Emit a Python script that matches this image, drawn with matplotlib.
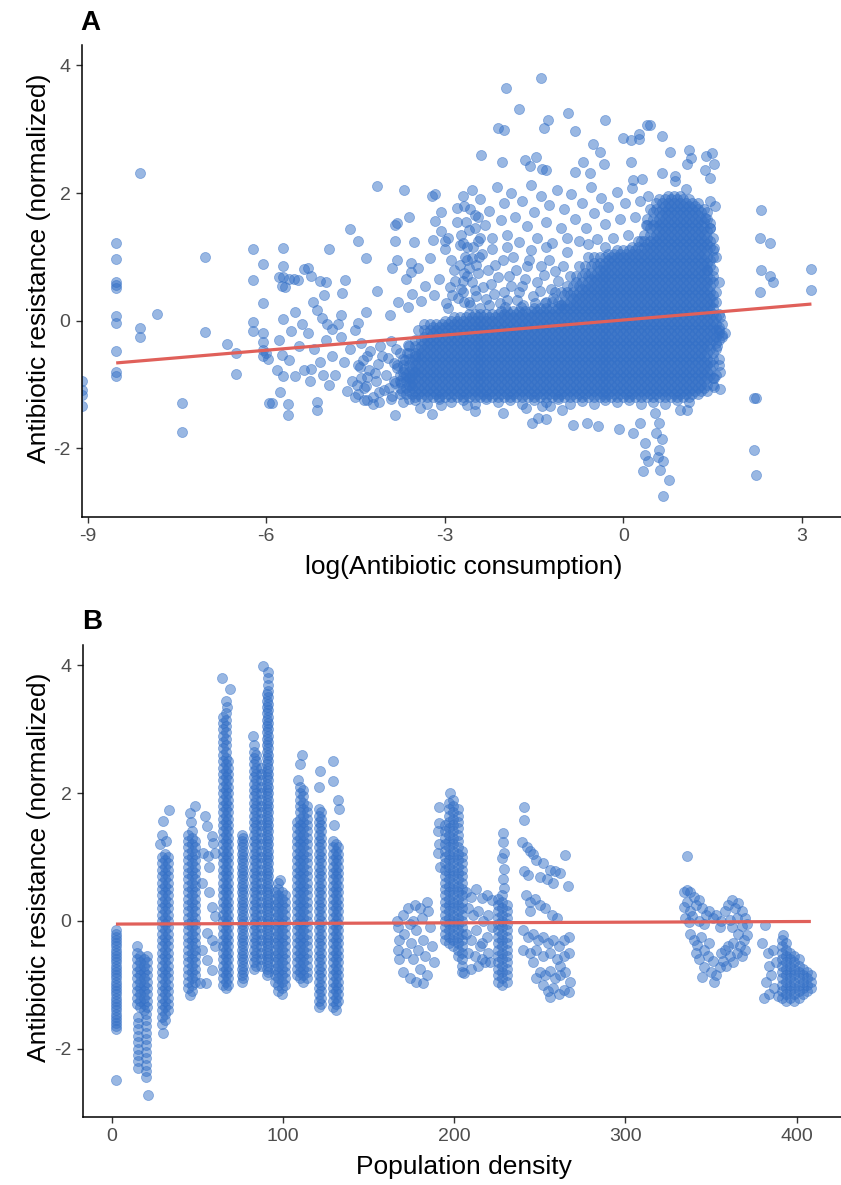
import numpy as np
import matplotlib
matplotlib.use('Agg')
import matplotlib.pyplot as plt

plt.rcParams['font.family'] = ['Liberation Sans', 'DejaVu Sans']
plt.rcParams['axes.unicode_minus'] = False

POINT_COLOR = '#3571C7'
FIT_COLOR = '#E0605A'
Y_TICKS = [-2, 0, 2, 4]
Y_LIM = (-3.07, 4.32)

# ---------------- panel A : log(antibiotic consumption) ----------------
# countries reporting zero consumption -> log is -inf, ggplot puts them on the edge
a_zero_y = [-0.94, -1.08, -1.17, -1.33]

# isolated observations
a_x = [-8.52, -8.52, -8.52, -8.52, -8.52, -8.52, -8.52, -8.52, -8.52, -8.52,
       -8.12, -8.12, -8.12, -7.83, -7.42, -7.42, -7.02, -7.02, -6.65, -6.50, -6.50,
       -6.22, -6.22, -6.22, -6.22, -6.06, -6.06, -6.06, -6.06, -6.06, -6.06, -5.96, -6.00, -5.97,
       -5.90, -5.79, -5.73, -5.82, -5.71, -5.76, -5.71, -5.71, -5.79, -5.71, -5.62, -5.54, -5.46,
       -5.74, -5.68, -5.71, -5.52, -5.59, -5.62, -5.52, -5.37, -5.26, -5.15, -5.15, -5.64, -5.64,
       -5.37, -5.29, -5.25, -5.22, -5.15, -5.09, -5.00, -5.03, -4.95, -5.06, -4.98, -4.90,
       -4.73, -4.67, -4.74, -4.59, -4.46, -4.32, -4.46, -4.32, -4.14, -3.92, -4.14, -3.68, -3.22, -3.16,
       -3.83, -3.80, -3.60, -3.83, -3.51, -3.89, -3.80, -3.57, -3.57, -3.06, -3.16, -3.06, -3.19, -2.99, -2.80,
       -5.30, -5.20, -5.10, -5.00, -4.90, -4.85, -4.75, -4.70, -4.60, -4.55, -4.50, -4.45, -4.40, -4.35,
       -4.30, -5.25, -4.95, -4.80, -4.65, -5.45, -5.40, -5.05, -4.50, -4.20,
       -3.83, -3.41, -3.22, -3.06,
       -1.38, -1.97, -1.76, -2.11, -2.00, -1.27, -1.34, -0.93, -0.81, -0.30, 0.40, 0.00, 0.13, 0.26, 0.27,
       -2.39, -2.04, -1.66, -1.57, -1.46, -1.37, -1.30, -0.81, -0.68, -0.56, -0.51, -0.40, -0.33, 0.13, 0.17, 0.31,
       -2.63, -2.49, -2.02, -1.63, -1.53, -1.44, -1.30, -1.37, -1.23, -1.03, -0.85, -0.61, -0.43, -0.08,
       0.17, 0.37, 0.33, 0.37, 0.28, 0.42,
       0.45, 0.65, 0.78, 1.10, 1.07, 1.14, 1.39, 1.49, 1.53, 1.38, 1.45, 0.65, 0.86, 0.86, 1.06, 1.46,
       1.54, 1.38, 1.45, 1.46, 1.52, 1.40, 1.60, 1.65, 1.62, 1.52, 1.52, 1.62, 0.96, 1.07, 0.54, 0.60,
       0.55, 0.65, 0.60, 0.58, 0.67, 0.62, 0.76, 0.66,
       2.32, 2.30, 2.47, 2.32, 2.47, 2.51, 2.30, 3.16, 3.16, 2.20, 2.23, 2.20, 2.23,
       1.55, 1.60, 1.55, 1.62, 1.58, 1.60]
a_y = [1.21, 0.96, 0.60, 0.56, 0.51, 0.07, -0.04, -0.47, -0.80, -0.87,
       2.32, -0.12, -0.26, 0.10, -1.29, -1.74, 0.99, -0.17, -0.37, -0.50, -0.83,
       1.13, 0.63, -0.02, -0.16, 0.89, 0.27, -0.19, -0.33, -0.46, -0.55, -1.29, -0.50, -0.60,
       -1.29, -0.30, -0.53, -0.77, -0.87, -1.11, 1.14, 0.85, 0.68, 0.68, 0.66, 0.66, 0.64,
       0.55, 0.53, 0.02, 0.13, -0.16, -0.61, -0.87, -0.78, -0.95, -1.27, -1.40, -1.31, -1.47,
       0.81, 0.82, 0.70, 0.30, 0.17, 0.62, 0.61, 0.40, 1.12, 0.04, -0.05, -0.13,
       0.43, 0.63, 0.09, 1.43, 1.25, 0.98, -0.03, 0.13, 0.46, 0.09, 2.11, 2.04, 1.96, 1.98,
       1.50, 1.53, 1.63, 1.25, 1.23, 0.83, 0.95, 0.91, 0.76, 1.70, 1.56, 1.41, 1.27, 1.25, 1.77,
       -0.20, -0.45, -0.65, -0.30, -0.55, -0.85, -0.25, -0.65, -0.45, -0.95, -0.15, -0.70, -0.35, -1.05,
       -0.55, -0.75, -1.00, -0.05, -1.10, -0.40, -0.05, -0.85, -1.20, -1.30,
       -1.47, -1.37, -1.46, -1.32,
       3.80, 3.64, 3.32, 3.02, 2.98, 3.14, 3.02, 3.25, 2.97, 3.14, 3.07, 2.86, 2.83, 2.84, 2.93,
       2.60, 2.48, 2.51, 2.43, 2.56, 2.38, 2.36, 2.33, 2.48, 2.32, 2.77, 2.64, 2.45, 2.48, 2.21, 2.22,
       -1.32, -1.41, -1.45, -1.36, -1.60, -1.53, -1.54, -1.33, -1.34, -1.40, -1.63, -1.61, -1.65, -1.70,
       -1.76, -2.10, -2.35, -1.92, -1.61, -2.20,
       3.06, 2.89, 2.65, 2.67, 2.46, 2.55, 2.58, 2.62, 2.45, 2.36, 2.24, 2.32, 2.26, 2.19, 2.06, 1.87,
       1.79, 1.61, 1.53, 1.45, 1.14, 0.80, -0.14, -0.22, -0.80, -0.90, -1.04, -1.07, -1.40, -1.40, -1.45, -1.60,
       -1.76, -1.85, -2.02, -2.13, -2.20, -2.34, -2.50, -2.75,
       1.74, 1.29, 1.22, 0.80, 0.70, 0.60, 0.45, 0.81, 0.48, -1.21, -1.21, -2.02, -2.41,
       1.00, 0.60, 0.30, 0.05, -0.40, -0.60]

# looser cloud around the main band
a_mid_x = [-3.78, -3.62, -3.55, -3.40, -3.33, -3.18, -3.10, -2.98, -2.92, -2.85, -2.78, -2.70, -2.62,
           -2.58, -2.50, -2.44, -2.38, -2.30, -2.22, -2.15, -2.08, -2.00, -1.92, -1.86, -1.78, -1.70,
           -1.62, -1.55, -1.48, -1.40, -1.33, -1.25, -1.18, -1.10, -1.02, -0.95, -3.45, -3.25, -3.00,
           -2.75, -2.52, -2.90, -2.20, -1.95, -1.72, -2.62, -3.65, -1.30, -1.05, -2.40,
           -2.95, -2.80, -2.70, -2.68, -2.60, -2.55, -2.50, -2.45, -2.40, -2.32, -2.25, -2.20, -2.12,
           -2.05, -2.00, -1.95, -1.88, -1.82, -1.75, -1.70, -1.62, -1.55, -1.50, -1.45, -1.38, -1.30,
           -1.25, -1.20, -1.12, -1.05, -1.00, -0.95, -0.88, -0.82, -0.75, -0.70, -0.62, -0.55, -0.50,
           -0.45, -0.38, -0.30, -0.25, -0.18, -0.10, -0.05, 0.02, 0.08, 0.15, 0.20, 0.28, 0.30, 0.38,
           0.42, -2.72, -2.60, -2.66, -2.48, -0.60, -0.30,
           -2.95, -2.88, -2.82, -2.75, -2.68, -2.55, -2.48, -2.35, -2.28, -2.18, -2.10, -2.02, -1.95,
           -1.88, -1.80, -1.75, -1.65, -1.58, -1.52, -1.45, -1.38, -1.32, -1.22, -1.15, -2.60, -2.42,
           -1.98, -1.68, -2.25, -2.70,
           -2.72, -2.65, -2.58, -2.70, -2.50, -2.62, -2.45, -2.68, -2.55, -2.40,
           -4.3, -4.1, -3.9, -3.7, -3.5, -3.3, -3.1, -2.9, -2.7, -2.5, -2.3, -2.1, -1.9, -1.7, -1.5,
           -1.3, -1.1, -0.9, -0.7, -0.5, -0.3, -0.1, 0.1, 0.3, 0.5, 0.7, 0.9, 1.1,
           -4.45, -4.40, -4.38, -4.32, -4.28, -4.25, -4.20, -4.15, -4.12, -4.08, -4.02, -3.98, -3.95,
           -3.90, -3.88, -3.84, -3.80, -3.76, -3.72, -3.70, -3.66, -3.62, -3.60, -3.56, -3.52, -3.50,
           -4.42, -4.35, -4.18, -4.05, -3.93, -3.82, -3.68, -3.58, -4.48, -4.30, -4.10, -3.86, -3.74,
           -3.64]
a_mid_y = [0.30, 0.22, 0.42, 0.31, 0.55, 0.40, 0.66, 0.28, 0.52, 0.80, 0.36, 0.62, 0.95,
           0.25, 0.48, 0.75, 1.05, 0.34, 0.58, 0.88, 0.27, 0.45, 0.70, 1.00, 0.32, 0.55,
           0.85, 1.10, 0.28, 0.47, 0.72, 0.95, 0.36, 0.62, 0.85, 1.08, 0.82, 0.98, 1.12,
           1.18, 1.15, 0.95, 1.12, 1.15, 0.22, 0.70, 0.65, 1.15, 0.25, 0.20,
           1.30, 1.55, 1.22, 1.80, 1.42, 2.05, 1.65, 1.25, 1.90, 1.50, 1.72, 1.30, 2.10,
           1.58, 1.85, 1.35, 2.00, 1.62, 1.24, 1.88, 1.48, 2.12, 1.70, 1.30, 1.95, 1.55,
           1.82, 1.22, 2.05, 1.45, 1.75, 1.30, 1.98, 1.60, 1.25, 1.85, 1.45, 2.10, 1.68,
           1.28, 1.92, 1.52, 1.78, 1.30, 2.02, 1.60, 1.85, 1.35, 2.08, 1.62, 1.88, 1.25, 1.50,
           1.95, 0.50, 0.30, 1.00, 0.88, 1.20, 1.15,
           0.20, 0.40, 0.62, 0.88, 0.30, 0.60, 0.38, 0.52, 0.80, 0.42, 0.68, 0.95, 0.32,
           0.55, 0.80, 0.45, 0.65, 0.95, 0.38, 0.60, 0.85, 0.28, 0.50, 0.78, 0.82, 1.00,
           0.22, 0.25, 0.25, 0.45,
           1.35, 1.55, 1.75, 1.95, 1.45, 1.15, 1.62, 0.75, 0.98, 1.30,
           -1.25, -1.28, -1.22, -1.27, -1.24, -1.30, -1.22, -1.27, -1.25, -1.30, -1.23, -1.28, -1.25,
           -1.30, -1.24, -1.27, -1.22, -1.30, -1.26, -1.30, -1.24, -1.28, -1.25, -1.30, -1.27, -1.30,
           -1.25, -1.28,
           -1.15, -0.90, -0.62, -1.02, -0.78, -0.48, -1.20, -0.95, -0.68, -0.40, -1.08, -0.85, -0.58,
           -0.32, -1.18, -0.98, -0.74, -0.50, -1.10, -0.88, -0.62, -0.38, -1.22, -1.00, -0.80, -0.55,
           -0.72, -1.25, -0.82, -0.55, -1.05, -0.45, -0.75, -0.90, -1.00, -0.88, -1.12, -0.66, -0.98,
           -0.50]

# main band, filled row by row: consumption grid values (two staggered sets) and
# for each resistance level the consumption range the band covers
a_band_x0 = [-4.4, -4.3, -4.2, -4.1, -4.0, -3.9, -3.8, -3.7, -3.6, -3.5, -3.4, -3.3, -3.2, -3.1,
             -3.0, -2.9, -2.8, -2.7, -2.6, -2.5, -2.4, -2.3, -2.2, -2.1, -2.0, -1.9, -1.8, -1.7,
             -1.6, -1.5, -1.4, -1.3, -1.2, -1.1, -1.0, -0.9, -0.8, -0.7, -0.6, -0.5, -0.4, -0.3,
             -0.2, -0.1, 0.0, 0.1, 0.2, 0.3, 0.4, 0.5, 0.6, 0.7, 0.8, 0.9, 1.0, 1.1, 1.2, 1.3, 1.4,
             1.5, 1.6, 1.7]
a_band_x1 = [-4.45, -4.35, -4.25, -4.15, -4.05, -3.95, -3.85, -3.75, -3.65, -3.55, -3.45, -3.35,
             -3.25, -3.15, -3.05, -2.95, -2.85, -2.75, -2.65, -2.55, -2.45, -2.35, -2.25, -2.15,
             -2.05, -1.95, -1.85, -1.75, -1.65, -1.55, -1.45, -1.35, -1.25, -1.15, -1.05, -0.95,
             -0.85, -0.75, -0.65, -0.55, -0.45, -0.35, -0.25, -0.15, -0.05, 0.05, 0.15, 0.25, 0.35,
             0.45, 0.55, 0.65, 0.75, 0.85, 0.95, 1.05, 1.15, 1.25, 1.35, 1.45, 1.55, 1.65]
a_band_y = [-1.20, -1.15, -1.10, -1.05, -1.00, -0.95, -0.90, -0.85, -0.80, -0.75, -0.70, -0.65,
            -0.60, -0.55, -0.50, -0.45, -0.40, -0.35, -0.30, -0.25, -0.20, -0.15, -0.10, -0.05,
            0.00, 0.05, 0.10, 0.15, 0.20, 0.25, 0.30, 0.35, 0.40, 0.45, 0.50, 0.55, 0.60, 0.65,
            0.70, 0.75, 0.80, 0.85, 0.90, 0.95, 1.00, 1.05, 1.10, 1.15, 1.20, 1.25, 1.30, 1.35,
            1.40, 1.45, 1.50, 1.55, 1.60, 1.65, 1.70, 1.75, 1.80, 1.85, 1.90, 1.95]
a_band_lo = [-3.55, -3.75, -3.6, -3.8, -3.65, -3.85, -3.6, -3.75, -3.7, -3.55, -3.8, -3.6,
             -3.7, -3.5, -3.65, -3.45, -3.6, -3.4, -3.5, -3.35, -3.3, -3.45, -3.2, -3.35,
             -3.0, -2.85, -2.6, -2.05, -1.5, -1.05, -1.3, -0.85, -1.0, -1.15, -0.7, -0.95, -0.8, -0.55,
             -0.9, -0.65, -0.4, -0.75, -0.5, -0.25, -0.6, -0.3, -0.1, 0.15, 0.4, 0.25, 0.5, 0.35,
             0.6, 0.45, 0.4, 0.55, 0.4, 0.65, 0.5, 0.45, 0.7, 0.55, 0.6, 0.75]
a_band_hi = [1.10, 1.25, 1.4, 1.35, 1.5, 1.40, 1.5, 1.55, 1.4, 1.45, 1.6, 1.45,
             1.5, 1.35, 1.5, 1.55, 1.4, 1.55, 1.6, 1.65, 1.7, 1.55, 1.6, 1.65,
             1.5, 1.55, 1.6, 1.45, 1.5, 1.45, 1.5, 1.45, 1.5, 1.55, 1.4, 1.45, 1.5, 1.45,
             1.5, 1.35, 1.5, 1.45, 1.4, 1.45, 1.5, 1.35, 1.5, 1.45, 1.4, 1.45, 1.5, 1.35,
             1.4, 1.45, 1.3, 1.35, 1.4, 1.25, 1.4, 1.35, 1.2, 1.25, 1.1, 0.95]

# linear fit (intercept, slope) over the finite consumption range
a_fit = (0.011, 0.079)
a_fit_range = [-8.52, 3.16]

# ---------------- panel B : population density ----------------
# regions sharing (almost) the same density form vertical stripes:
# density of each stripe and the resistance range it covers
b_levels0 = [-2.8, -2.7, -2.6, -2.5, -2.4, -2.3, -2.2, -2.1, -2.0, -1.9, -1.8, -1.7, -1.6, -1.5,
             -1.4, -1.3, -1.2, -1.1, -1.0, -0.9, -0.8, -0.7, -0.6, -0.5, -0.4, -0.3, -0.2, -0.1,
             0.0, 0.1, 0.2, 0.3, 0.4, 0.5, 0.6, 0.7, 0.8, 0.9, 1.0, 1.1, 1.2, 1.3, 1.4, 1.5, 1.6,
             1.7, 1.8, 1.9, 2.0, 2.1, 2.2, 2.3, 2.4, 2.5, 2.6, 2.7, 2.8, 2.9, 3.0, 3.1, 3.2, 3.3,
             3.4, 3.5, 3.6, 3.7, 3.8, 3.9, 4.0]
b_levels1 = [-2.75, -2.65, -2.55, -2.45, -2.35, -2.25, -2.15, -2.05, -1.95, -1.85, -1.75, -1.65,
             -1.55, -1.45, -1.35, -1.25, -1.15, -1.05, -0.95, -0.85, -0.75, -0.65, -0.55, -0.45,
             -0.35, -0.25, -0.15, -0.05, 0.05, 0.15, 0.25, 0.35, 0.45, 0.55, 0.65, 0.75, 0.85,
             0.95, 1.05, 1.15, 1.25, 1.35, 1.45, 1.55, 1.65, 1.75, 1.85, 1.95, 2.05, 2.15, 2.25,
             2.35, 2.45, 2.55, 2.65, 2.75, 2.85, 2.95, 3.05, 3.15, 3.25, 3.35, 3.45, 3.55, 3.65,
             3.75, 3.85, 3.95]
b_stripe_x = [2.4, 2.8, 14.6, 16.6, 18.6, 20.5, 15.6, 20.0, 29.2, 31.2, 33.1, 44.7, 46.7, 48.7,
              65.2, 66.7, 68.1, 75.9, 76.9, 83.2, 84.2, 90.5, 91.5, 95.3, 97.3, 99.3, 101.2,
              108.0, 110.0, 112.0, 113.9, 121.2, 122.2, 129.5, 131.0, 132.4,
              194.5, 197.0, 199.5, 202.0, 204.4, 225.8, 228.2, 230.7,
              391.2, 393.7, 396.2, 398.7, 401.2, 403.7, 406.2, 408.5, 87.0]
b_stripe_lo = [-1.70, -1.65, -1.35, -1.40, -1.40, -1.35, -2.30, -2.45, -1.50, -1.55, -1.45, -1.05,
               -1.10, -1.00, -1.00, -1.05, -1.00, -1.00, -0.95, -0.75, -0.70, -0.85, -0.80, -0.95,
               -1.10, -1.15, -1.05, -0.85, -0.90, -0.95, -0.90, -1.35, -1.30, -1.35, -1.40, -1.30,
               -0.30, -0.35, -0.40, -0.60, -0.85, -1.00, -1.05, -0.95,
               -1.20, -1.25, -1.20, -1.25, -1.20, -1.20, -1.15, -1.10, -0.70]
b_stripe_hi = [-0.15, -0.10, -0.40, -0.50, -0.55, -0.55, -1.45, -1.45, 1.05, 1.10, 1.00, 1.35,
               1.40, 1.30, 3.20, 3.30, 2.50, 1.40, 1.30, 2.75, 2.60, 3.60, 3.90, 0.45,
               0.60, 0.50, 0.40, 1.60, 2.10, 2.05, 1.80, 1.80, 1.75, 1.30, 1.25, 1.20,
               1.50, 1.85, 1.95, 1.80, 1.10, 0.35, 0.40, 0.30,
               -0.30, -0.35, -0.45, -0.55, -0.60, -0.70, -0.75, -0.85, 2.40]

# scattered observations off the stripes
b_x = [2.6, 21.0, 30.2, 33.7, 29.5, 32.0, 28.5, 30.0, 29.5, 45.7, 48.7, 46.5, 46.0,
       64.2, 69.1, 66.5, 67.5, 82.5, 88.6, 98.5, 111.0, 110.0, 109.0, 121.7, 121.0,
       129.4, 129.4, 132.4, 133.0, 130.0,
       191.0, 191.0, 190.5, 191.0, 190.5, 191.5, 197.6,
       228.7, 228.5, 229.0, 228.0, 229.0, 228.5, 229.0,
       54.5, 55.4, 58.4, 59.3, 53.6, 56.5, 60.3, 58.4, 60.3, 55.4, 58.4, 60.3, 55.4, 58.4, 55.1, 51.6,
       53.0, 57.0, 52.5, 56.8,
       166.5, 167, 168, 170, 171, 172, 173, 174, 175, 176, 177, 178, 179, 180, 181, 182, 183, 184, 185,
       186, 187, 188, 168, 170, 174, 178, 182, 167, 176, 180, 184,
       207, 210, 213, 216, 219, 222, 208, 211, 214, 217, 220, 207, 210, 213, 216, 219, 222, 208, 212,
       216, 220, 210, 214, 218, 206, 215, 221,
       240.8, 240.8, 239.4, 242.3, 244, 246, 248, 252, 256, 259, 262, 264.7, 266.7, 250, 254, 258, 241,
       243, 242, 244, 247, 250, 253, 257, 260, 244, 240, 243, 246, 249, 252, 255, 258, 261, 264, 267,
       240, 244, 248, 252, 256, 260, 264, 267, 250, 253, 256, 259, 262, 265, 267.6, 252, 255, 258, 261,
       264, 267, 256, 248, 246, 262,
       336.1,
       334, 336, 338, 340, 336, 334, 338, 341, 343, 345, 347, 335, 337, 339, 343, 346, 349, 351, 353,
       356, 358, 360, 362, 364, 366, 368, 370, 365, 361, 355, 362, 368, 371,
       338, 340, 342, 344, 341, 343, 346, 348, 351, 349, 346, 350, 353, 355, 357, 359, 361, 363, 365,
       367, 369, 371, 366, 363, 368, 370, 356, 358, 360, 345, 352,
       381.5, 392, 380, 383, 381, 384, 386, 388, 385, 387, 389, 384, 382]
b_y = [-2.49, -2.73, 1.56, 1.73, 1.35, 1.25, 1.20, -1.76, -1.62, 1.69, 1.80, 1.55, -1.16,
       3.80, 3.63, 3.45, 3.35, 2.89, 3.99, 0.64, 2.60, 2.45, 2.20, 2.34, 2.10,
       2.50, 2.19, 1.90, 1.75, 1.50,
       1.79, 1.53, 1.40, 1.20, 1.06, 0.85, 2.00,
       1.38, 1.24, 1.06, 0.98, 0.82, 0.66, 0.51,
       1.65, 1.48, 1.33, 1.22, 1.07, 1.02, 1.07, 0.22, 0.07, -0.19, -0.30, -0.40, -0.61, -0.77, -0.98, -0.98,
       0.60, 0.45, -0.45, 0.85,
       0.00, -0.10, -0.30, 0.10, -0.20, -0.50, 0.20, -0.05, -0.35, -0.60, 0.25, -0.15, -0.45, -0.75,
       0.05, -0.30, -0.55, -0.85, 0.15, -0.10, -0.40, -0.65, -0.60, -0.80, -0.90, -0.95, -0.98, -0.45,
       0.00, 0.20, 0.30,
       0.45, 0.38, 0.50, 0.36, 0.40, 0.33, 0.20, 0.10, 0.15, 0.00, 0.10, -0.20, -0.30, -0.15, -0.35,
       -0.25, -0.10, -0.50, -0.55, -0.60, -0.50, -0.75, -0.70, -0.65, -0.82, -0.40, -0.65,
       1.79, 1.58, 1.24, 1.16, 1.10, 1.05, 0.95, 0.90, 0.80, 0.78, 0.75, 1.03, 0.55, 0.68, 0.65, 0.60,
       0.78, 0.72, 0.40, 0.30, 0.35, 0.25, 0.20, 0.10, 0.05, 0.15, -0.15, -0.25, -0.20, -0.30, -0.25,
       -0.35, -0.30, -0.40, -0.30, -0.25, -0.45, -0.50, -0.45, -0.55, -0.50, -0.60, -0.55, -0.50, -0.80,
       -0.85, -0.78, -0.90, -0.85, -0.80, -0.95, -1.00, -1.10, -1.05, -1.15, -1.08, -1.12, -1.19, -0.90,
       -0.65, -0.70,
       1.01,
       0.45, 0.48, 0.45, 0.38, 0.30, 0.22, 0.15, 0.25, 0.32, 0.20, 0.10, 0.05, -0.02, 0.08, 0.00, -0.05,
       0.15, 0.05, 0.10, 0.00, 0.15, 0.25, 0.32, 0.20, 0.28, 0.15, 0.05, 0.05, 0.02, -0.10, -0.10, -0.08,
       -0.05,
       -0.20, -0.30, -0.38, -0.25, -0.50, -0.60, -0.45, -0.55, -0.62, -0.35, -0.72, -0.80, -0.85, -0.72,
       -0.62, -0.70, -0.55, -0.65, -0.50, -0.40, -0.30, -0.22, -0.20, -0.35, -0.55, -0.45, -0.50, -0.45,
       -0.40, -0.88, -0.95,
       -0.06, -0.22, -0.35, -0.50, -1.20, -1.15, -0.45, -0.65, -0.85, -1.05, -1.18, -0.70, -0.95]

b_fit = (-0.05, 0.0001)
b_fit_range = [2.5, 408.3]


def in_range(values, lo, hi):
    return [v for v in values if lo - 1e-9 <= v <= hi + 1e-9]


def band_points(y_levels, lo, hi, grids):
    # rows alternate between the two staggered grids
    xs, ys = [], []
    for i, (y, a, b) in enumerate(zip(y_levels, lo, hi)):
        row = in_range(grids[i % 2], a, b)
        xs += row
        ys += [y] * len(row)
    return xs, ys


def draw_points(ax, x, y):
    ax.scatter(x, y, s=52, color=POINT_COLOR, alpha=0.5, linewidths=0.6,
               edgecolors=POINT_COLOR, zorder=2)


def draw_fit(ax, fit, xr):
    xr = np.array(xr)
    ax.plot(xr, fit[0] + fit[1] * xr, color=FIT_COLOR, lw=2.3, zorder=3, solid_capstyle='butt')


def style(ax, xlim, xticks, xlabel):
    ax.set_xlim(*xlim)
    ax.set_ylim(*Y_LIM)
    ax.set_xticks(xticks)
    ax.set_yticks(Y_TICKS)
    for s in ('top', 'right'):
        ax.spines[s].set_visible(False)
    for s in ('left', 'bottom'):
        ax.spines[s].set_linewidth(1.1)
    ax.tick_params(length=4, width=1.0, color='#333333', labelsize=14,
                   labelcolor='#4D4D4D', pad=4)
    ax.set_xlabel(xlabel, fontsize=19)
    ax.set_ylabel('Antibiotic resistance (normalized)', fontsize=19)


fig = plt.figure(figsize=(8.41, 11.85), dpi=100)
ax_a = fig.add_axes([0.0971, 0.5640, 0.9088, 0.3981])
ax_b = fig.add_axes([0.0983, 0.0574, 0.9076, 0.3983])

# panel A
style(ax_a, (-9.10, 3.74), [-9, -6, -3, 0, 3], 'log(Antibiotic consumption)')
band_x, band_y = band_points(a_band_y, a_band_lo, a_band_hi, (a_band_x0, a_band_x1))
draw_points(ax_a, a_x + a_mid_x + band_x, a_y + a_mid_y + band_y)
draw_points(ax_a, [ax_a.get_xlim()[0]] * len(a_zero_y), a_zero_y)
draw_fit(ax_a, a_fit, a_fit_range)
ax_a.xaxis.set_label_coords(0.5, -0.081)
ax_a.yaxis.set_label_coords(-0.040, 0.527)

# panel B
style(ax_b, (-16.93, 428.8), [0, 100, 200, 300, 400], 'Population density')
bx, by = list(b_x), list(b_y)
for i, (x, lo, hi) in enumerate(zip(b_stripe_x, b_stripe_lo, b_stripe_hi)):
    col = in_range((b_levels0, b_levels1)[i % 2], lo, hi)
    bx += [x] * len(col)
    by += col
draw_points(ax_b, bx, by)
draw_fit(ax_b, b_fit, b_fit_range)
ax_b.xaxis.set_label_coords(0.5, -0.081)
ax_b.yaxis.set_label_coords(-0.0415, 0.53)

fig.text(80 / 841, 1 - 30 / 1185, 'A', fontsize=20, fontweight='bold')
fig.text(82 / 841, 1 - 629 / 1185, 'B', fontsize=20, fontweight='bold')

fig.savefig('out.png', dpi=100)
